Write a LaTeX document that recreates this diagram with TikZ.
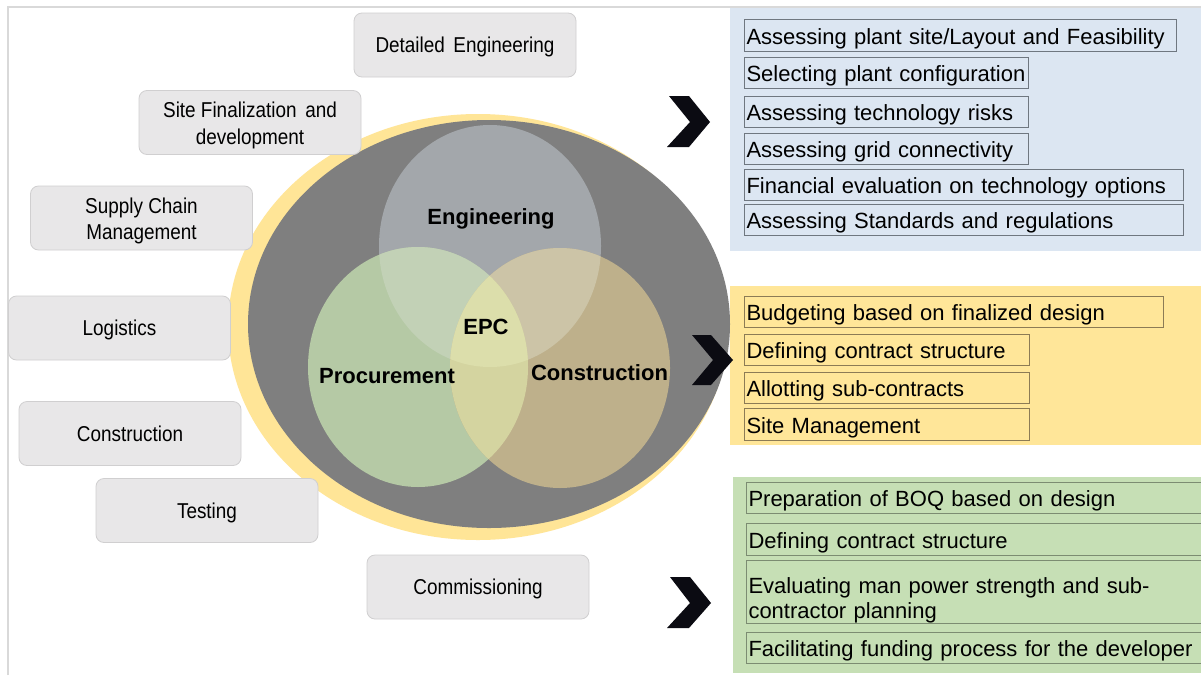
\documentclass[tikz,border=0pt]{standalone}
\usepackage{fontspec}
\setmainfont{Liberation Sans}
\newfontfamily\boxfont[FakeStretch=0.88]{Liberation Sans}
\hyphenpenalty=10000
\exhyphenpenalty=10000
\definecolor{framecol}{HTML}{D9D9D9}
\definecolor{boxfill}{HTML}{E8E7E8}
\definecolor{boxline}{HTML}{D0CFD0}
\definecolor{outergray}{HTML}{7F7F7F}
\definecolor{outeryellow}{HTML}{FFE597}
\definecolor{engc}{HTML}{A3A7AB}
\definecolor{procc}{HTML}{B5C9A5}
\definecolor{consc}{HTML}{BEB08B}
\definecolor{epc}{HTML}{C2D1B6}
\definecolor{ecc}{HTML}{CCC4A7}
\definecolor{pcc}{HTML}{D4D4A0}
\definecolor{epcc}{HTML}{DCDEAB}
\definecolor{bluepanel}{HTML}{DCE6F2}
\definecolor{yellowpanel}{HTML}{FFE699}
\definecolor{greenpanel}{HTML}{C6DFB5}
\definecolor{blueline}{HTML}{6F7780}
\definecolor{yellowline}{HTML}{8C7B55}
\definecolor{greenline}{HTML}{7C8C72}
\definecolor{chev}{HTML}{0B0B12}
\tikzset{
  gbox/.style={draw=boxline, fill=boxfill, rounded corners=8pt, line width=0.8pt,
    minimum width=222pt, minimum height=64pt, align=center, inner sep=0pt,
    text height=15.5pt, text depth=0pt,
    font=\boxfont\fontsize{21.5}{26.5}\selectfont},
  gboxtwo/.style={gbox, text height=43pt},
  item/.style={draw=#1, line width=1pt, anchor=north west, inner xsep=2pt, inner ysep=0pt,
    align=left, text height=18pt, text depth=1pt,
    font=\fontsize{22}{25}\selectfont},
  vlabel/.style={font=\bfseries\fontsize{22}{26}\selectfont, text height=16pt, text depth=0pt, inner sep=0pt},
  chevron/.style={fill=chev}
}
\begin{document}
\begin{tikzpicture}[x=1pt,y=-1pt]
\clip (0,0) rectangle (1201,675);
\fill[white] (0,0) rectangle (1201,675);
% frame
\draw[framecol, line width=1.5pt] (8,675) -- (8,7) -- (1201,7);
% right panels
\fill[bluepanel] (730,8) rectangle (1201,251);
\fill[yellowpanel] (730,286) rectangle (1201,445);
\fill[greenpanel] (733,477) rectangle (1201,673);
% outer ellipses
\fill[outeryellow] (478,327) ellipse [x radius=250, y radius=213];
\fill[outergray] (489,324) ellipse [x radius=241, y radius=204];
% Venn circles
\def\Eng{(490,246) ellipse [x radius=111, y radius=121]}
\def\Pro{(418,367) ellipse [x radius=110, y radius=120]}
\def\Con{(560,368) ellipse [x radius=110, y radius=120]}
\fill[engc] \Eng;
\fill[procc] \Pro;
\fill[consc] \Con;
\begin{scope}\clip \Eng; \fill[epc] \Pro; \end{scope}
\begin{scope}\clip \Eng; \fill[ecc] \Con; \end{scope}
\begin{scope}\clip \Pro; \fill[pcc] \Con; \end{scope}
\begin{scope}\clip \Eng; \clip \Pro; \fill[epcc] \Con; \end{scope}
\node[vlabel] (eng) at (491,216) {Engineering};
\node[vlabel] (epcl) at (486,326.5) {EPC};
\node[vlabel] (pro) at (387,375) {Procurement};
\node[vlabel] (con) at (599.5,372) {Construction};
% left boxes
\node[gbox] (b1) at (465,45) {Detailed\hspace{0.4em}Engineering};
\node[gboxtwo] (b2) at (250,122.5) {Site Finalization\hspace{0.4em}and\\development};
\node[gboxtwo] (b3) at (141.5,218) {Supply Chain\\Management};
\node[gbox] (b4) at (119.5,328) {Logistics};
\node[gbox] (b5) at (130,433.5) {Construction};
\node[gbox] (b6) at (207,510.5) {Testing};
\node[gbox] (b7) at (478,587) {Commissioning};
% chevrons
\fill[chevron] (669,96) -- (689,96) -- (710,122) -- (689,147) -- (667,147) -- (690,122) -- cycle;
\fill[chevron] (692,335) -- (711,335) -- (733,360) -- (711,385) -- (692,385) -- (713,360) -- cycle;
\fill[chevron] (670,577) -- (690,577) -- (711,603) -- (689,628) -- (667,628) -- (690,603) -- cycle;
% blue items
\node[item=blueline, text width=428pt, minimum height=32pt] (e1) at (744,19) {Assessing plant site/Layout and Feasibility};
\node[item=blueline, text width=280pt, minimum height=31pt] (e2) at (744,57) {Selecting plant configuration};
\node[item=blueline, text width=280pt, minimum height=31pt] (e3) at (744,96) {Assessing technology risks};
\node[item=blueline, text width=280pt, minimum height=31pt] (e4) at (744,133) {Assessing grid connectivity};
\node[item=blueline, text width=435pt, minimum height=31pt] (e5) at (744,169) {Financial evaluation on technology options};
\node[item=blueline, text width=435pt, minimum height=31pt] (e6) at (744,204) {Assessing Standards and regulations};
% yellow items
\node[item=yellowline, text width=415pt, minimum height=31pt] (c1) at (744,296) {Budgeting based on finalized design};
\node[item=yellowline, text width=281pt, minimum height=31pt] (c2) at (744,334) {Defining contract structure};
\node[item=yellowline, text width=281pt, minimum height=31pt] (c3) at (744,372) {Allotting sub-contracts};
\node[item=yellowline, text width=281pt, minimum height=32pt] (c4) at (744,408) {Site Management};
% green items
\node[item=greenline, text width=456pt, minimum height=31pt] (p1) at (746,482) {Preparation of BOQ based on design};
\node[item=greenline, text width=456pt, minimum height=32pt] (p2) at (746,523) {Defining contract structure};
\node[item=greenline, text width=456pt, minimum height=63pt, text height=20pt, text depth=17pt] (p3) at (746,560) {Evaluating man power strength and sub-\\contractor planning};
\node[item=greenline, text width=456pt, minimum height=31pt] (p4) at (746,632) {Facilitating funding process for the developer};
\end{tikzpicture}
\end{document}
